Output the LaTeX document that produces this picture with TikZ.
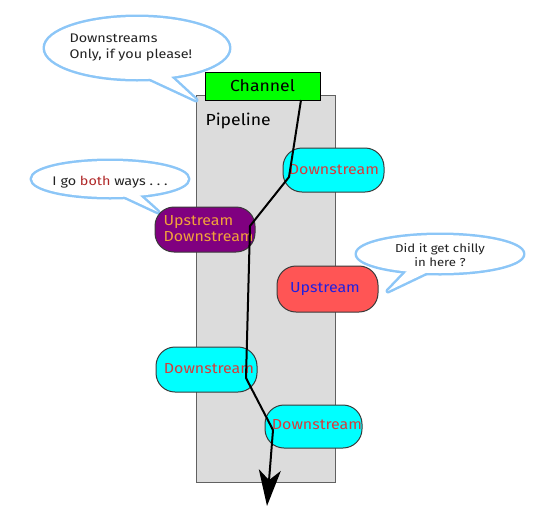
\documentclass[tikz,border=0pt]{standalone}
\usepackage{fontspec}
\setmainfont{Fira Sans}
\newfontfamily\comicwide[FakeStretch=1.15]{Fira Sans}
\newfontfamily\comicbox[FakeStretch=1.1]{Fira Sans}
\usetikzlibrary{arrows.meta}
\definecolor{bubble}{HTML}{8CC6F7}
\definecolor{pipegray}{HTML}{DCDCDC}
\definecolor{boxline}{HTML}{3A3A3A}
\definecolor{cyanbox}{HTML}{00FFFF}
\definecolor{purplebox}{HTML}{800080}
\definecolor{redbox}{HTML}{FF5555}
\definecolor{greenbox}{HTML}{00FF00}
\definecolor{dstext}{HTML}{D83A3A}
\definecolor{ustext}{HTML}{2020E0}
\definecolor{udtext}{HTML}{F2A23A}
\definecolor{bothtext}{HTML}{B02828}
\definecolor{talk}{HTML}{222222}
\begin{document}
\begin{tikzpicture}[x=1pt,y=-1pt,
  pill/.style={draw=boxline, line width=1pt, rounded corners=19pt, inner sep=0pt},
  bubblestroke/.style={draw=bubble, line width=5pt, line join=round},
  talktext/.style={text=talk, font=\comicwide\fontsize{12.5}{16}\selectfont},
  boxtext/.style={font=\comicbox\fontsize{14.5}{16}\selectfont}]
\useasboundingbox (0,0) rectangle (554,523);

% pipeline and channel
\node[draw=boxline!80, fill=pipegray, line width=1pt, minimum width=139pt, minimum height=387pt, inner sep=0pt] (pipe) at (265.5,288.5) {};
\node[anchor=north west, font=\comicbox\fontsize{16}{18}\selectfont] (pipelabel) at (202,109) {Pipeline};
\node[draw=black, fill=greenbox, line width=1pt, minimum width=115pt, minimum height=28pt, inner sep=0pt, font=\comicbox\fontsize{16}{18}\selectfont] (channel) at (262.5,86) {Channel};

% speech bubbles (outline first, then white fill)
\draw[bubblestroke] (137,48) ellipse [x radius=92, y radius=31];
\draw[bubblestroke] (140,74) -- (196,100) -- (170,76);
\draw[bubblestroke] (110,179) ellipse [x radius=78, y radius=18];
\draw[bubblestroke] (115,192) -- (158,212) -- (138,194);
\draw[bubblestroke] (440,254) ellipse [x radius=83, y radius=19];
\draw[bubblestroke] (410,268) -- (388,291) -- (432,270);
\fill[white] (137,48) ellipse [x radius=92, y radius=31];
\fill[white] (140,74) -- (196,100) -- (170,76) -- cycle;
\fill[white] (110,179) ellipse [x radius=78, y radius=18];
\fill[white] (115,192) -- (158,212) -- (138,194) -- cycle;
\fill[white] (440,254) ellipse [x radius=83, y radius=19];
\fill[white] (410,268) -- (388,291) -- (432,270) -- cycle;

\node[talktext, anchor=west, align=left] (say1) at (66,48) {Downstreams\\Only, if you please!};
\node[talktext] (say2) at (110,182) {I go \textcolor{bothtext}{both} ways\ .\ .\ .};
\node[talktext, align=center, font=\comicwide\fontsize{11.5}{14}\selectfont] (say3) at (440,255) {Did it get chilly\\in here ?};

% boxes
\node[pill, fill=cyanbox, minimum width=101pt, minimum height=44pt] (d1) at (333.5,170) {};
\node[boxtext, text=dstext] (d1t) at (334,170) {Downstream};
\node[pill, fill=purplebox, minimum width=100pt, minimum height=45pt] (ud) at (205,229.5) {};
\node[boxtext, text=udtext, align=left, anchor=west] (udt) at (160,229) {Upstream\\Downstream};
\node[pill, fill=redbox, minimum width=101pt, minimum height=46pt] (up) at (327.5,289) {};
\node[boxtext, text=ustext] (upt) at (325,289) {Upstream};
\node[pill, fill=cyanbox, minimum width=101pt, minimum height=45pt] (d3) at (206.5,369.5) {};
\node[boxtext, text=dstext] (d3t) at (209,369) {Downstream};
\node[pill, fill=cyanbox, minimum width=97pt, minimum height=43pt] (d4) at (313.5,426.5) {};
\node[boxtext, text=dstext] (d4t) at (317,425) {Downstream};

% flow path
\coordinate (p0) at (301,100);
\coordinate (p1) at (289,177);
\coordinate (p2) at (250,226);
\coordinate (p3) at (246,378);
\coordinate (p4) at (273,430);
\coordinate (p5) at (267,506);
\draw[line width=2pt, line join=round, -{Stealth[length=36pt, width=22pt, inset=10pt]}]
  (p0) -- (p1) -- (p2) -- (p3) -- (p4) -- (p5);
\end{tikzpicture}
\end{document}
